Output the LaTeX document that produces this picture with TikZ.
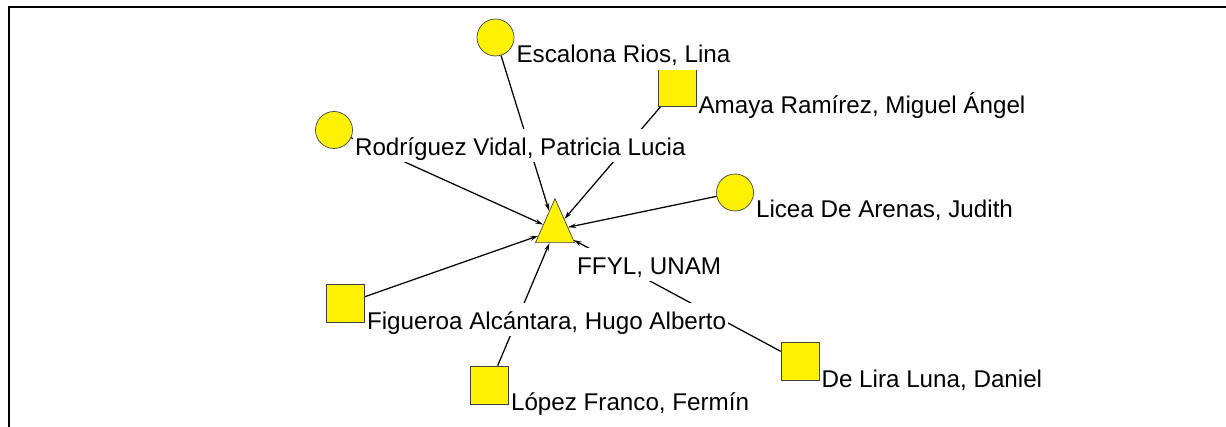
\documentclass[tikz,border=0pt]{standalone}
\usepackage{fontspec}
\setmainfont{Liberation Sans}
\usetikzlibrary{shapes.geometric,arrows.meta}
\begin{document}
\begin{tikzpicture}[x = 1pt, y = -1pt,
  actor/.style = {draw = black!75, line width = 0.7pt, fill = yellow, inner sep = 0pt},
  woman/.style = {actor, circle, minimum size = 37pt},
  man/.style = {actor, rectangle, minimum size = 38pt},
  inst/.style = {actor, isosceles triangle, isosceles triangle stretches, shape border rotate = 90, minimum width = 39pt, minimum height = 44pt},
  lab/.style = {font = \fontsize{24.2}{28}\selectfont, fill = white, inner sep = 2pt, text height = 24pt, text depth = 5pt, anchor = base west, yshift = -6.5pt},
  edge/.style = {line width = 1.25pt, -{Stealth[length = 8pt, width = 4.5pt]}}]
\useasboundingbox (0,0) rectangle (1226,427);
\draw[line width = 2pt] (8.5,427) -- (8.5,6.7) -- (1226,6.7);
% actors
\node[inst, anchor = south] (t) at (555,243) {};
\node[woman] (e) at (495.5,37.5) {};
\node[man] (a) at (677,87.5) {};
\node[woman] (r) at (334,130) {};
\node[woman] (l) at (735,192.5) {};
\node[man] (f) at (345.5,303.5) {};
\node[man] (o) at (489.5,385) {};
\node[man] (d) at (800,361.7) {};
% ties
\foreach \n in {e,a,r,l,f,o,d}
\draw[edge] (\n) -- (t);
% names
\node[lab, anchor = base west] (tL) at (575,268) {FFYL, UNAM};
\node[lab] (eL) at (e.south -| e.east) {Escalona Rios, Lina};
\node[lab] (aL) at (a.south east) {Amaya Ramírez, Miguel Ángel};
\node[lab] (rL) at (r.south -| r.east) {Rodríguez Vidal, Patricia Lucia};
\node[lab] (lL) at (l.south -| l.east) {Licea De Arenas, Judith};
\node[lab] (fL) at (f.south east) {Figueroa Alcántara, Hugo Alberto};
\node[lab] (oL) at (o.south east) {López Franco, Fermín};
\node[lab] (dL) at (d.south east) {De Lira Luna, Daniel};
\end{tikzpicture}
\end{document}
